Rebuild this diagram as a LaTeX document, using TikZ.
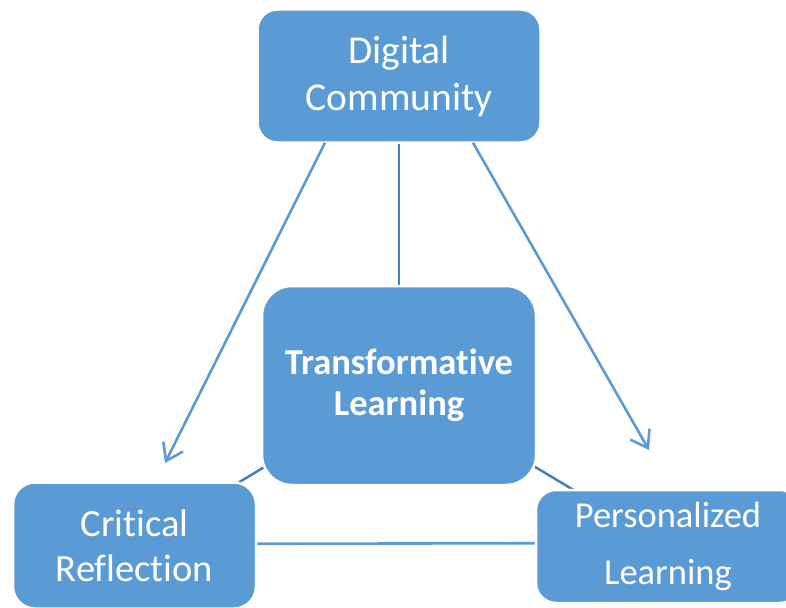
\documentclass[tikz,border=0pt]{standalone}
\usepackage{fontspec}
\setmainfont{Carlito}[Ligatures=NoCommon]
\usetikzlibrary{arrows.meta,backgrounds}
\definecolor{boxblue}{HTML}{5B9BD5}
\definecolor{linkdark}{HTML}{4A7EBB}
\begin{document}
\begin{tikzpicture}[x=1pt,y=-1pt,
  card/.style={fill=boxblue, draw=white, line width=2.5pt, text=white,
    align=center, inner sep=0pt},
  link/.style={line width=2.5pt, draw=linkdark},
  plainlink/.style={line width=2.6pt, draw=boxblue},
  flow/.style={line width=2.6pt, draw=boxblue,
    -{Straight Barb[length=16pt,width=22pt,line width=2.6pt]}},
]
\useasboundingbox (0,0) rectangle (786,607);
\clip (0,0) rectangle (786,607);

% the four concept boxes
\node[card, minimum width=283pt, minimum height=133pt, rounded corners=20pt,
  font=\fontsize{39.5}{47}\selectfont] (dc) at (399,76) {Digital\\Community};
\node[card, minimum width=274pt, minimum height=199pt, rounded corners=30pt,
  font=\bfseries\fontsize{36.5}{41}\selectfont] (tl) at (399,385.5) {Transformative\\Learning};
\node[card, minimum width=243pt, minimum height=126pt, rounded corners=22pt,
  font=\fontsize{38.5}{45}\selectfont] (cr) at (134.5,545.5) {Critical\\Reflection};
\node[card, minimum width=264pt, minimum height=113pt, rounded corners=20pt,
  font=\fontsize{36.5}{57}\selectfont] (pl) at (668,546.5) {Personalized\\Learning};

% links between box centres, kept behind the boxes
\begin{scope}[on background layer]
  \draw[link] (dc.center) -- (tl.center);
  \draw[link] (tl.center) -- (cr.center);
  \draw[link] (tl.center) -- (pl.center);
  \draw[plainlink] ([yshift=1.5pt]cr.center) -- ([yshift=3.5pt]pl.center);
\end{scope}

% arrows down from the top box
\coordinate (tipL) at (165,463);
\coordinate (tipR) at (649,450);
\draw[flow] ([xshift=-74pt,yshift=1pt]dc.south) -- (tipL);
\draw[flow] ([xshift=74pt,yshift=1pt]dc.south) -- (tipR);
\end{tikzpicture}
\end{document}
